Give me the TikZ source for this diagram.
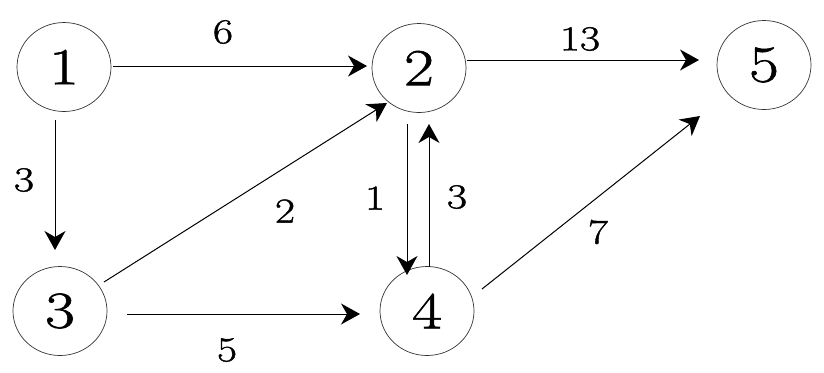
\documentclass[tikz,border=0pt]{standalone}
\usepackage{fontspec}
\setmainfont{Latin Modern Roman}[FakeStretch=1.25,FakeBold=1.2]
\usetikzlibrary{shapes.geometric,arrows.meta,calc}
\begin{document}
\begin{tikzpicture}[x=0.5pt,y=-0.5pt,
  vert/.style={ellipse,draw=black!80,line width=0.35pt,minimum width=47pt,minimum height=44.5pt,inner sep=0pt,font=\fontsize{26}{28}\selectfont},
  edge/.style={line width=0.5pt,-{Stealth[length=9.5pt,width=10.5pt,inset=3pt]}},
  wlab/.style={inner sep=0pt,font=\fontsize{17.5}{19}\selectfont}]
\useasboundingbox (0,0) rectangle (824,372);
\node[vert] (n1) at (64,67) {1};
\node[vert] (n2) at (419,68) {2};
\node[vert] (n3) at (60,311) {3};
\node[vert] (n4) at (427,311) {4};
\node[vert] (n5) at (764,65) {5};
\draw[edge] ($(n1)+(49,-1)$) -- ($(n2)+(-52,-2)$);
\draw[edge] ($(n1)+(-9,53)$) -- ($(n3)+(-5,-61)$);
\draw[edge] ($(n3)+(44,-29)$) -- ($(n2)+(-32,35)$);
\draw[edge] ($(n3)+(67,3)$) -- ($(n4)+(-67,3)$);
\draw[edge] ($(n2)+(-12,56)$) -- ($(n4)+(-20,-36)$);
\draw[edge] ($(n4)+(2,-44)$) -- ($(n2)+(10,56)$);
\draw[edge] ($(n2)+(48,-8)$) -- ($(n5)+(-65,-5)$);
\draw[edge] ($(n4)+(55,-22)$) -- ($(n5)+(-64,51)$);
\node[wlab] (l12) at (223,32) {6};
\node[wlab] (l13) at (24,180) {3};
\node[wlab] (l32) at (285,211) {2};
\node[wlab] (l34) at (227,350) {5};
\node[wlab] (l24) at (375,198) {1};
\node[wlab] (l42) at (457,197) {3};
\node[wlab] (l25) at (580,39) {13};
\node[wlab] (l45) at (598,232) {7};
\end{tikzpicture}
\end{document}
